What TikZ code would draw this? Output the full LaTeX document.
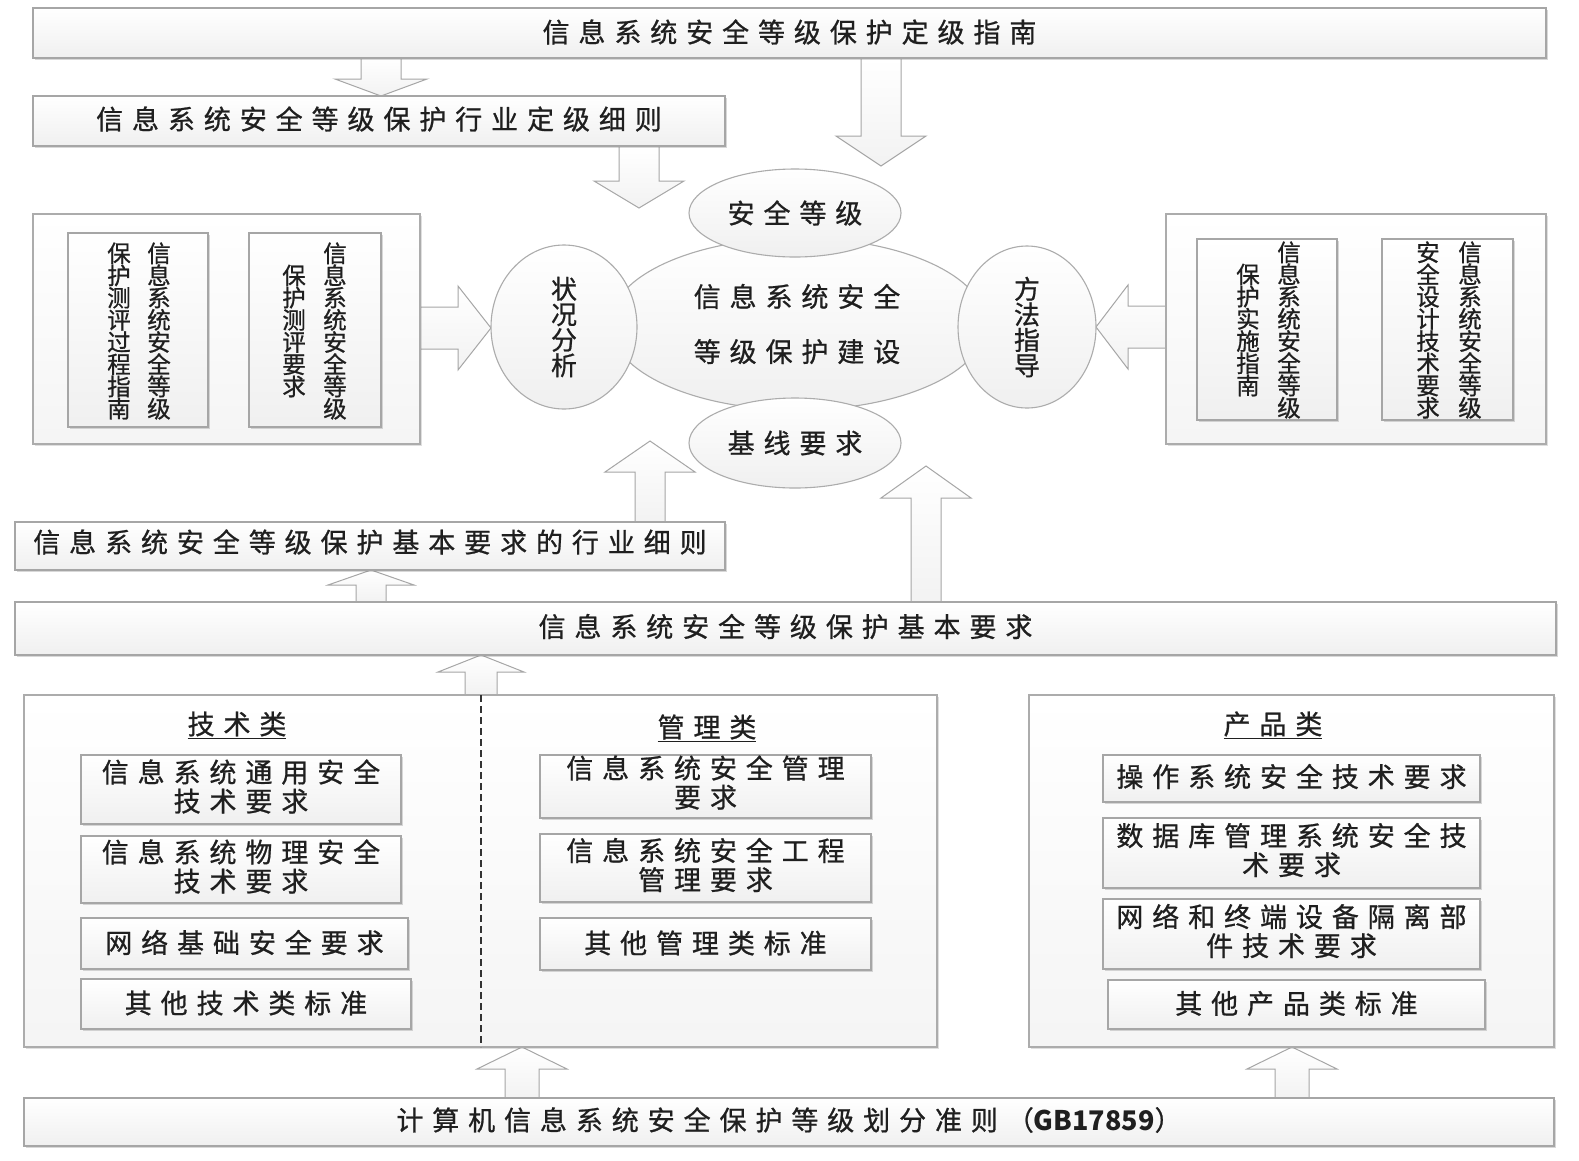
\documentclass[tikz,border=0pt]{standalone}
\usepackage{fontspec}
\setmainfont{Noto Sans CJK SC}
\newfontfamily\cjk[LetterSpace=33,FakeBold=0.8]{Noto Sans CJK SC}
\newfontfamily\cjkv[FakeBold=0.8]{Noto Sans CJK SC}
\usetikzlibrary{shadows,shapes.geometric,fit}
\tikzset{
  box/.style={draw=gray!70, line width=1.1pt, top color=white, bottom color=gray!12,
    inner sep=0pt, drop shadow={shadow xshift=2pt, shadow yshift=-2pt, opacity=.3, fill=gray}},
  frame/.style={draw=gray!65, line width=1.1pt, top color=white, bottom color=gray!8,
    inner sep=0pt, drop shadow={shadow xshift=2pt, shadow yshift=-2pt, opacity=.25, fill=gray}},
  oval/.style={ellipse, draw=gray!65, line width=1.1pt, top color=white, bottom color=gray!12, inner sep=0pt},
  htext/.style={font=\cjk\fontsize{27}{29}\selectfont, text=black!88, align=center, inner sep=0pt},
  vtext/.style={font=\cjkv\fontsize{23.5}{22.2}\selectfont, text=black!88, align=center, inner sep=0pt},
  otext/.style={font=\cjkv\fontsize{26}{25.5}\selectfont, text=black!88, align=center, inner sep=0pt},
  blk/.style={draw=gray!70, line width=1pt, top color=white, bottom color=gray!10},
}
% vertical block arrow: x, tail y, tip y, head base y, shaft half width, head half width
\newcommand\vblk[6]{\draw[blk] (#1-#5,#2) -- (#1-#5,#4) -- (#1-#6,#4) -- (#1,#3) -- (#1+#6,#4) -- (#1+#5,#4) -- (#1+#5,#2);}
% horizontal block arrow: y, tail x, tip x, head base x, shaft half width, head half width
\newcommand\hblk[6]{\draw[blk] (#2,#1-#5) -- (#4,#1-#5) -- (#4,#1-#6) -- (#3,#1) -- (#4,#1+#6) -- (#4,#1+#5) -- (#2,#1+#5);}
% box from corners with centred text (yshift positive = up)
\newcommand\tbox[5][box]{\node[#1, fit={#3}] (#2) {};\node[htext] (#2-t) at ([yshift=#4]#2.center) {#5};}
\begin{document}
\begin{tikzpicture}[x=1pt,y=-1pt]
\useasboundingbox (0,0) rectangle (1579,1160);
\fill[white] (0,0) rectangle (1579,1160);

% ---- block arrows (drawn first, boxes cover their tails)
\vblk{381}{58}{96}{79}{20}{46}
\vblk{639}{146}{208}{181}{20}{45}
\vblk{881}{58}{166}{136}{20}{45}
\hblk{328}{420}{491}{458}{21}{42}
\hblk{327}{1166}{1096}{1128}{21}{42}
\vblk{650}{522}{441}{472}{15}{45}
\vblk{926}{602}{466}{498}{15}{45}
\vblk{371}{602}{570}{585}{15}{43}
\vblk{481}{695}{655}{672}{16}{43}
\vblk{522}{1098}{1047}{1069}{17}{45}
\vblk{1292}{1098}{1047}{1069}{17}{45}

% ---- top boxes
\tbox{t1}{(33,8)(1546,58)}{1pt}{信息系统安全等级保护定级指南}
\tbox{t2}{(33,96)(725,146)}{2pt}{信息系统安全等级保护行业定级细则}

% ---- central ellipses
\node[oval, minimum width=376pt, minimum height=172pt] (core) at (798,324) {};
\node[htext, font=\cjk\fontsize{27}{55}\selectfont] (coretext) at (797,324) {信息系统安全\\等级保护建设};
\node[oval, minimum width=212pt, minimum height=88pt] (level) at (795,213) {};
\node[htext] (levelt) at (795,213) {安全等级};
\node[oval, minimum width=212pt, minimum height=90pt] (base) at (795,443) {};
\node[htext] (baset) at (795,443) {基线要求};
\node[oval, minimum width=146pt, minimum height=164pt, otext] (state) at (564,327) {状\\况\\分\\析};
\node[oval, minimum width=138pt, minimum height=162pt, otext] (method) at (1027,327) {方\\法\\指\\导};

% ---- left group
\node[frame, fit={(33,214)(420,444)}] (lg) {};
\node[box, fit={(68,233)(208,427)}] (l1) {};
\node[box, fit={(249,233)(381,427)}] (l2) {};
\node[vtext] (l1a) at (159,331) {信\\息\\系\\统\\安\\全\\等\\级};
\node[vtext] (l1b) at (119,331) {保\\护\\测\\评\\过\\程\\指\\南};
\node[vtext] (l2a) at (335,331) {信\\息\\系\\统\\安\\全\\等\\级};
\node[vtext] (l2b) at (294,331) {保\\护\\测\\评\\要\\求};

% ---- right group
\node[frame, fit={(1166,214)(1546,444)}] (rg) {};
\node[box, fit={(1197,239)(1337,420)}] (r1) {};
\node[box, fit={(1382,239)(1513,420)}] (r2) {};
\node[vtext] (r1a) at (1289,330) {信\\息\\系\\统\\安\\全\\等\\级};
\node[vtext] (r1b) at (1248,330) {保\\护\\实\\施\\指\\南};
\node[vtext] (r2a) at (1470,330) {信\\息\\系\\统\\安\\全\\等\\级};
\node[vtext] (r2b) at (1428,330) {安\\全\\设\\计\\技\\术\\要\\求};

% ---- middle bars
\tbox{t3}{(15,522)(725,570)}{4pt}{信息系统安全等级保护基本要求的行业细则}
\tbox{t4}{(15,602)(1556,655)}{2pt}{信息系统安全等级保护基本要求}

% ---- technical / management group
\node[frame, fit={(24,695)(937,1047)}] (tm) {};
\coordinate (dashtop) at (481,695);
\coordinate (dashbot) at (481,1047);
\draw[dash pattern=on 7pt off 4pt, black!80, line width=1.5pt] (dashtop) -- (dashbot);
\node[htext] (tech) at (237,725) {\underline{技术类}};
\node[htext] (mgmt) at (707,728) {\underline{管理类}};
\tbox{te1}{(81,755)(401,824)}{3pt}{信息系统通用安全\\技术要求}
\tbox{te2}{(81,836)(401,903)}{3pt}{信息系统物理安全\\技术要求}
\tbox{te3}{(81,918)(408,969)}{1pt}{网络基础安全要求}
\tbox{te4}{(81,979)(411,1029)}{1pt}{其他技术类标准}
\tbox{m1}{(540,755)(871,818)}{4pt}{信息系统安全管理\\要求}
\tbox{m2}{(540,834)(871,902)}{3pt}{信息系统安全工程\\管理要求}
\tbox{m3}{(540,918)(871,970)}{1pt}{其他管理类标准}

% ---- product group
\node[frame, fit={(1029,695)(1554,1047)}] (pg) {};
\node[htext] (prod) at (1273,725) {\underline{产品类}};
\tbox{p1}{(1103,755)(1480,802)}{2pt}{操作系统安全技术要求}
\tbox{p2}{(1103,818)(1480,888)}{3pt}{数据库管理系统安全技\\术要求}
\tbox{p3}{(1103,899)(1480,969)}{3pt}{网络和终端设备隔离部\\件技术要求}
\tbox{p4}{(1108,980)(1485,1029)}{1pt}{其他产品类标准}

% ---- bottom bar
\tbox{t5}{(24,1098)(1554,1146)}{2pt}{计算机信息系统安全保护等级划分准则（{\fontspec{Noto Sans CJK SC}\bfseries GB17859}）}
\end{tikzpicture}
\end{document}
